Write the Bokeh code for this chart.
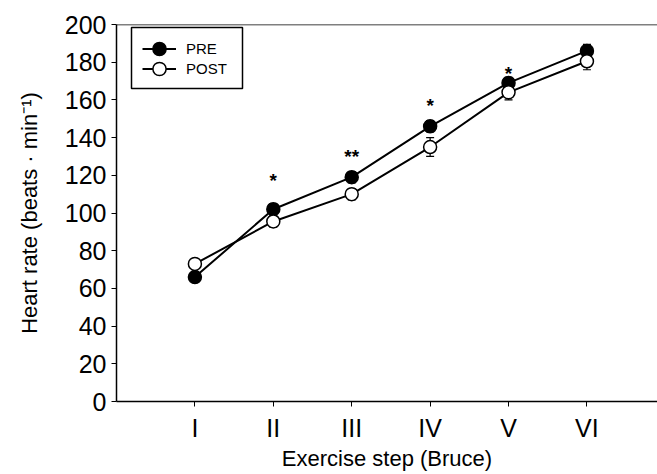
from bokeh.plotting import figure
from bokeh.models import (Range1d, Span, Legend, LegendItem, FixedTicker, ColumnDataSource,
                          Whisker, TeeHead, BoxAnnotation)
from bokeh.core.properties import value
from bokeh.embed import file_html
from bokeh.resources import INLINE

steps = [1, 2, 3, 4, 5, 6]
step_labels = ["I", "II", "III", "IV", "V", "VI"]
pre = [66, 102, 119, 146, 169, 186]
pre_err = [2, 3, 3, 3, 3, 3.5]
post = [73, 95.5, 110, 135, 164, 180.5]
post_err = [2, 3, 3, 5, 4, 4.5]
star_x = [2, 3, 4, 5]
star_y = [117, 130, 157, 174]
star_text = ["*", "**", "*", "*"]

FONT = "Liberation Sans"

p = figure(width=657, height=474, output_backend="svg", toolbar_location=None,
           x_range=Range1d(0, 6.9), y_range=Range1d(0, 200),
           min_border_left=116, min_border_top=24, min_border_right=0, min_border_bottom=73)
p.outline_line_color = None
p.xgrid.grid_line_color = None
p.ygrid.grid_line_color = None
p.background_fill_color = "white"
p.border_fill_color = "white"

p.add_layout(Span(location=200, dimension="width", line_color="black", line_width=1.5))

for ax in (p.xaxis[0], p.yaxis[0]):
    ax.axis_line_color = "black"
    ax.axis_line_width = 1.5
    ax.major_tick_line_color = "black"
    ax.major_tick_line_width = 1
    ax.major_tick_out = 5
    ax.major_tick_in = 0
    ax.minor_tick_line_color = None
    ax.major_label_text_font = FONT
    ax.major_label_text_font_size = "25px"
    ax.major_label_text_color = "black"
    ax.axis_label_text_font = FONT
    ax.axis_label_text_font_style = "normal"
    ax.axis_label_text_font_size = "22px"
    ax.axis_label_text_color = "black"

p.xaxis.ticker = FixedTicker(ticks=steps)
p.xaxis.major_label_overrides = {s: l for s, l in zip(steps, step_labels)}
p.xaxis.axis_label = "Exercise step (Bruce)"
p.xaxis.major_label_standoff = 7
p.xaxis.axis_label_standoff = 1
p.yaxis.ticker = FixedTicker(ticks=list(range(0, 201, 20)))
p.yaxis.axis_label = "Heart rate (beats · min⁻¹)"
p.yaxis.major_label_standoff = 5
p.yaxis.axis_label_standoff = 20

src_pre = ColumnDataSource(dict(x=steps, y=pre,
                                lo=[v - e for v, e in zip(pre, pre_err)],
                                hi=[v + e for v, e in zip(pre, pre_err)]))
src_post = ColumnDataSource(dict(x=steps, y=post,
                                 lo=[v - e for v, e in zip(post, post_err)],
                                 hi=[v + e for v, e in zip(post, post_err)]))

for src in (src_pre, src_post):
    p.add_layout(Whisker(source=src, base="x", lower="lo", upper="hi", line_color="black", line_width=1.2,
                         upper_head=TeeHead(size=8, line_color="black", line_width=1.2),
                         lower_head=TeeHead(size=8, line_color="black", line_width=1.2)))

l_pre = p.line("x", "y", source=src_pre, line_color="black", line_width=2)
l_post = p.line("x", "y", source=src_post, line_color="black", line_width=2)
m_pre = p.scatter("x", "y", source=src_pre, marker="circle", size=13,
                  fill_color="black", line_color="black", line_width=1.5)
m_post = p.scatter("x", "y", source=src_post, marker="circle", size=13,
                   fill_color="white", line_color="black", line_width=1.5)

p.text(x=star_x, y=star_y, text=star_text, text_font=value(FONT), text_font_size="19px",
       text_font_style="bold", text_align="center", text_baseline="middle", text_color="black")

# legend: framed box (frame-relative screen units, y measured up from frame bottom)
# plus two single-item legends so the rows can sit close together
p.add_layout(BoxAnnotation(left=15, right=126, top=374, bottom=313,
                           left_units="screen", right_units="screen",
                           top_units="screen", bottom_units="screen",
                           fill_color="white", fill_alpha=1,
                           line_color="black", line_alpha=1, line_width=1.5))
common = dict(orientation="vertical", glyph_width=34, glyph_height=33, label_height=20,
              spacing=0, padding=0, label_standoff=10, margin=0,
              label_text_font=FONT, label_text_font_size="15px", label_text_color="black",
              border_line_color=None, background_fill_alpha=0)
p.add_layout(Legend(items=[LegendItem(label="PRE", renderers=[l_pre, m_pre])],
                    location=(26, 336), **common))
p.add_layout(Legend(items=[LegendItem(label="POST", renderers=[l_post, m_post])],
                    location=(26, 316), **common))

open("out.html", "w").write(file_html(p, INLINE))
